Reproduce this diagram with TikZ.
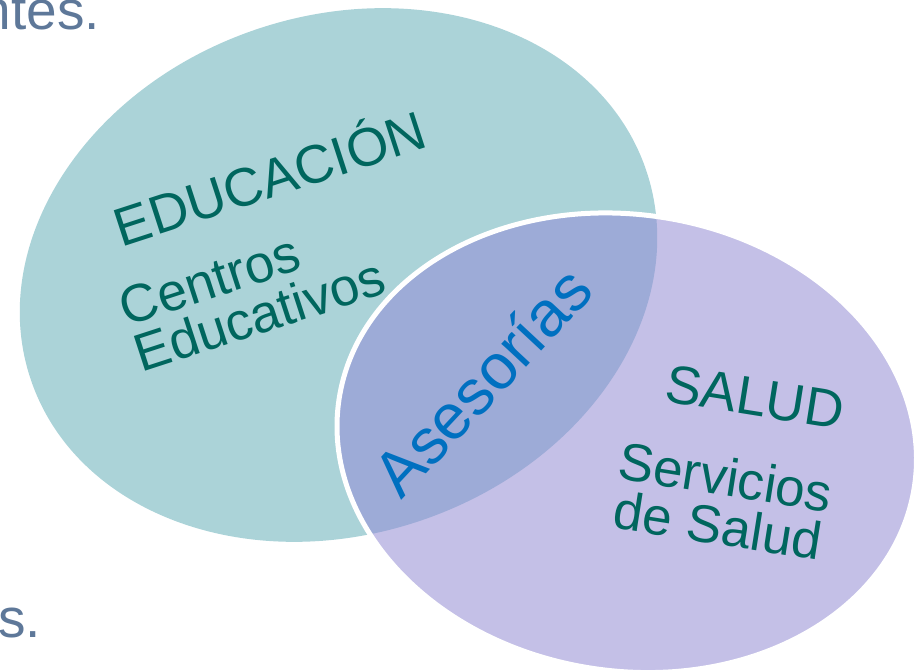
\documentclass[tikz,border=0pt]{standalone}
\usepackage{fontspec}
\setmainfont{Liberation Sans}
\definecolor{tealfill}{HTML}{ABD3D8}
\definecolor{lavfill}{HTML}{C4C0E7}
\definecolor{overfill}{HTML}{9DABD7}
\definecolor{textteal}{HTML}{00665E}
\definecolor{textblue}{HTML}{0070C0}
\definecolor{textgray}{HTML}{5E7899}
\tikzset{
  lbl/.style={text=textteal, font=\fontsize{53}{49}\selectfont, inner sep=0pt},
  bluelbl/.style={text=textblue, font=\fontsize{64}{70}\selectfont, inner sep=0pt},
  graylbl/.style={text=textgray, font=\fontsize{55}{60}\selectfont, inner sep=0pt},
  tealshape/.style={rotate around={19:(338.5,275)}},
  lavshape/.style={rotate around={-8.6:(626.75,442.75)}}
}
\begin{document}
\begin{tikzpicture}[x=1pt,y=-1pt]
\useasboundingbox (0,0) rectangle (918,671);
\clip (0,0) rectangle (918,671);
% teal ellipse
\fill[tealfill, tealshape] (338.5,275) ellipse [x radius=325pt, y radius=259pt];
% lavender ellipse
\fill[lavfill, lavshape] (626.75,442.75) ellipse [x radius=291pt, y radius=228.2pt];
% overlap
\begin{scope}
  \clip[tealshape] (338.5,275) ellipse [x radius=325pt, y radius=259pt];
  \fill[overfill, lavshape] (626.75,442.75) ellipse [x radius=291pt, y radius=228.2pt];
\end{scope}
% white outline of lavender ellipse
\draw[white, line width=5pt, lavshape] (626.75,442.75) ellipse [x radius=291pt, y radius=228.2pt];
% texts
\node[lbl, font=\fontsize{54}{49}\selectfont, rotate=18, anchor=base] (edu) at (276,197) {EDUCACIÓN};
\node[lbl, rotate=18, align=left] (centros) at (252,292) {Centros\\Educativos};
\node[bluelbl, rotate=47] (ases) at (482,381) {Asesorías};
\node[lbl, font=\fontsize{54}{49}\selectfont, rotate=-9] (salud) at (755,397) {SALUD};
\node[lbl, rotate=-9, align=center] (serv) at (722,501) {Servicios\\de Salud};
\node[graylbl, anchor=base east] (top) at (100,30) {ntes.};
\node[graylbl, anchor=base east] (bot) at (41,637) {s.};
\end{tikzpicture}
\end{document}
